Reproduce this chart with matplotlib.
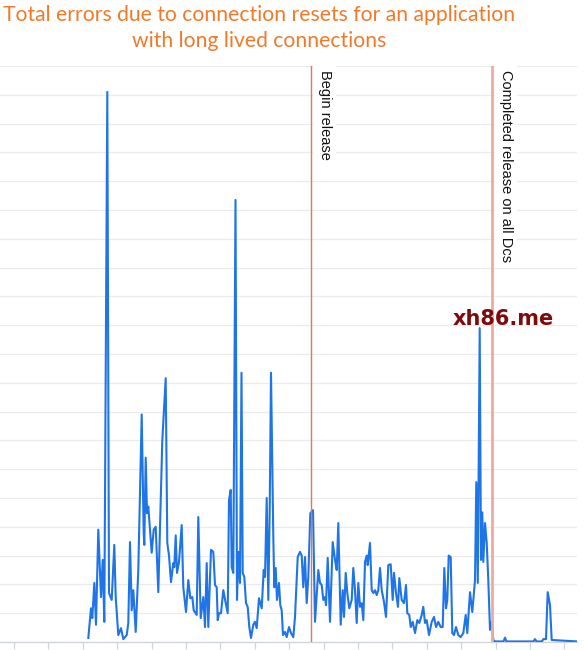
import matplotlib
matplotlib.use("Agg")
import matplotlib.pyplot as plt
import numpy as np

title_lines = ["Total errors due to connection resets for an application",
               "with long lived connections"]

# time (minutes) and error counts
t = [88.3, 91, 92.3, 94.3, 96, 98.3, 101, 102.7, 104.3, 107.3, 109, 111.7, 114.3, 115.7, 118.3,
     121, 123.3, 126.7, 128.3, 130, 131.7, 133.3, 135.7, 138.3, 141.7, 143.7, 144.3, 145.7, 147,
     148.3, 149.3, 151.7, 153.7, 155.7, 158.3, 162.3, 165.7, 167.3, 169, 171, 173.3, 174.3, 175.7,
     177, 179, 181.7, 183.3, 186, 188.3, 190.3, 192.3, 193.7, 196.7, 198.3, 200.7, 203.3, 205,
     206.7, 208.3, 211, 213.3, 215, 216.7, 217.7, 219, 221, 223.3, 225.7, 227.7, 229, 230.7, 231.7,
     233.3, 235.5, 237, 238.3, 240, 241.5, 242.7, 244.3, 246, 247.7, 249.3, 251, 253.3, 255, 256.7,
     259, 261.7, 263.7, 265, 266.7, 268.3, 269.7, 271, 273.3, 274.3, 275.7, 277, 279, 280.3, 281.7,
     283, 285, 286.7, 289, 291, 293.3, 295, 297.7, 300, 301.7, 303.3, 305, 306.7, 308.3, 310.3,
     313, 315, 318.3, 320, 321.7, 323.3, 325, 326, 327.7, 330, 332.7, 335, 336.7, 338.3, 340.7,
     342.7, 344, 345.7, 347.3, 349.3, 351.7, 353.3, 355, 356.7, 358.3, 360, 361.7, 363.3, 365,
     366.7, 367.7, 370, 371.7, 373.3, 375, 376.7, 378.3, 380, 381.7, 384, 386, 388.3, 390.7, 392.7,
     394, 396, 398, 399.3, 401.7, 404, 406, 407.3, 409.3, 410.7, 412.7, 415, 417.3, 419.3, 421.7,
     423.3, 425, 426.7, 429, 431.7, 434, 436, 438.3, 440.7, 442.7, 444.3, 446, 447.3, 448.7, 450.7,
     452.3, 454, 456, 458.3, 460.7, 463.3, 465.7, 467.3, 470, 472.3, 475, 476.3, 477.8, 479.7, 481,
     482.3, 483.3, 485, 486.7, 488.3, 490, 491.7, 493.3, 495, 503.5, 505, 506.5, 533.5, 535, 536.5,
     542, 543.3, 546, 547.7, 550, 551.7, 577]
errors = [0.14, 1.17, 0.83, 2.05, 0.6, 3.9, 1.56, 2.85, 0.7, 19.1, 1.7, 1.46, 3.37, 1.56, 0.24,
          0.48, 0.1, 0.24, 0.66, 3.47, 1.1, 1.8, 0.35, 2.5, 7.9, 3.78, 3.37, 6.4, 4.47,
          4.7, 4.24, 3.1, 3.9, 4.0, 1.73, 7.0, 9.16, 3.44, 3.0, 2.08, 2.74, 2.6, 3.7,
          2.4, 2.78, 4.06, 1.9, 1.04, 2.15, 1.52, 1.56, 1.1, 0.94, 4.34, 0.83, 1.56, 0.52,
          2.74, 0.52, 3.2, 3.13, 1.98, 1.9, 0.76, 1.0, 1.0, 1.8, 1.35, 1.0, 4.93, 5.28, 2.6,
          2.4, 15.35, 1.46, 3.13, 2.05, 9.35, 2.4, 2.26, 1.35, 1.22, 0.52, 0.14, 0.6, 0.7, 0.48,
          1.52, 1.17, 2.5, 2.26, 5.0, 1.46, 4.58, 9.35, 3.65, 1.9, 2.57, 1.46, 2.05, 1.28, 1.1,
          0.24, 0.35, 0.17, 0.52, 0.31, 0.17, 0.87, 2.95, 3.13, 3.0, 1.9, 2.95, 1.35, 2.26, 4.47,
          4.58, 0.7, 2.5, 2.05, 1.98, 1.46, 1.56, 1.28, 2.92, 0.7, 3.47, 2.85, 2.5, 4.13, 0.6,
          1.8, 0.87, 2.4, 1.7, 1.17, 1.46, 2.57, 1.8, 0.66, 2.05, 1.22, 1.35, 0.76, 2.78,
          3.0, 2.67, 3.44, 1.8, 1.7, 1.8, 1.63, 1.8, 2.57, 1.8, 1.39, 0.87, 2.67, 2.7, 1.46,
          2.4, 1.7, 1.22, 2.22, 1.46, 1.35, 1.98, 1.0, 0.94, 0.52, 0.7, 0.31, 0.76, 0.66, 0.94,
          1.22, 0.66, 0.76, 0.24, 0.7, 0.87, 0.52, 0.7, 0.52, 0.52, 2.57, 1.17, 1.46, 3.0, 2.95,
          0.31, 0.24, 0.52, 0.24, 0.17, 0.31, 0.94, 0.31, 1.73, 1.04, 2.15, 5.55, 2.05, 10.9, 2.85,
          4.5, 2.78, 4.13, 3.44, 2.15, 0.42, 0.7, 0.07, 0.02, 0.02, 0.15, 0.02, 0.02, 0.1, 0.02,
          0.02, 0.1, 0.1, 1.73, 1.28, 0.07, 0.02]

release_times = [310.6, 492.2]
release_labels = ["Begin release", "Completed release on all Dcs"]
release_colors = ["#e8735c", "#eeaa9e"]
release_widths = [1.0, 2.0]

tick_pos = np.arange(14, 577, 34.4)

fig = plt.figure(figsize=(5.84, 6.5), dpi=100)
ax = fig.add_axes([0.0, 1 - 642 / 650, 577 / 584, (642 - 66) / 650])

ax.plot(t, errors, color="#1f74e6", lw=1.5, zorder=3)

ax.set_xlim(0, 577)
ax.set_ylim(0, 20)
ax.set_yticks(np.arange(0, 21, 1))
ax.set_yticklabels([])
ax.tick_params(axis="y", length=0)
ax.grid(axis="y", color="#ebebeb", lw=0.9, zorder=0)
ax.set_xticks(tick_pos)
ax.set_xticklabels([])
ax.tick_params(axis="x", length=5, color="#cfd3da", width=0.9)
for s in ["top", "left", "right"]:
    ax.spines[s].set_visible(False)
ax.spines["bottom"].set_color("#cfd3da")
ax.spines["bottom"].set_linewidth(0.9)

for xr, lab, c, w in zip(release_times, release_labels, release_colors, release_widths):
    ax.axvline(xr, color=c, lw=w, zorder=4)
    ax.text(xr + 14, 19.85, lab, rotation=-90, ha="center", va="top",
            fontsize=10.5, family="Liberation Sans", color="#111111", zorder=5,
            bbox=dict(facecolor="white", edgecolor="none", pad=3))

for i, (line, ybase) in enumerate(zip(title_lines, [21, 47])):
    fig.text(259 / 584, 1 - ybase / 650, line, ha="center", va="baseline",
             fontsize=15.2, family="Lato", color="#f07a2a")

ax.text(503, 11.2, "xh86.me", ha="center", va="center", fontsize=15, fontweight="bold",
        family="DejaVu Sans", color="#7d0b0b", zorder=6)

fig.savefig("out.png", dpi=100)
